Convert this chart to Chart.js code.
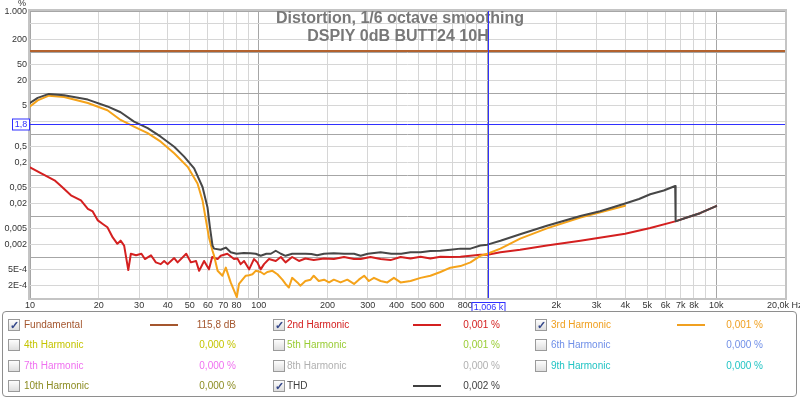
<!DOCTYPE html>
<html>
<head>
<meta charset="utf-8">
<script src="https://cdn.jsdelivr.net/npm/chart.js@4.4.0/dist/chart.umd.min.js"></script>
<style>
  body { margin: 0; background: #fff; font-family: 'Liberation Sans', Arial, sans-serif; }
  #wrap { position: relative; width: 800px; height: 399px; overflow: hidden; }
  #distChart { position: absolute; left: 0; top: 0; }
  #legendBox { position: absolute; left: 2px; top: 311px; width: 793px; height: 84px;
               border: 1px solid #8e8e8e; border-radius: 4px; }
  .cb  { position: absolute; width: 10px; height: 10px; border: 1px solid #9a9a9a;
         background: linear-gradient(#fdfdfd, #dedede); font-size: 11px; line-height: 10px;
         text-align: center; color: #34478a; font-weight: bold; }
  .lbl { position: absolute; font-size: 10px; line-height: 12px; white-space: nowrap; }
  .val { position: absolute; font-size: 10px; line-height: 12px; white-space: nowrap; text-align: right; width: 80px; }
  .smp { position: absolute; width: 28px; height: 2px; }
</style>
</head>
<body>
<div id="wrap">
  <canvas id="distChart" width="800" height="312"></canvas>
  <div id="legendBox"></div>
</div>
<script>
// ─── Dados ────────────────────────────────────────────────
const titleLines = ['Distortion, 1/6 octave smoothing', 'DSPIY 0dB BUTT24 10H'];

const fundFreq = [10, 20000];
const fundPct  = [106, 106];

const h2Freq = [10, 11.2, 12.8, 13.7, 15.1, 16.7, 17.9, 18.8, 19.8, 20.8,
  21.8, 23.0, 24.1, 24.9, 25.8, 26.9, 27.6, 29.1, 30.7, 31.8,
  33.8, 35.5, 37.3, 38.6, 39.9, 42.7, 44.2, 48.2, 50.5, 53.2,
  54.9, 57.7, 60.6, 62.6, 66.1, 68.2, 72.9, 78.0, 80.7, 83.4,
  86.3, 90.8, 95.3, 98.6, 102, 105.5, 110.9, 118.7, 125, 131,
  140, 150, 160, 174, 193, 213, 236, 261, 279, 308,
  341, 377, 417, 461, 510, 563, 623, 689, 762, 843,
  931, 1000, 1140, 1390, 1820, 2550, 4000, 5150, 6620, 8500, 10000];
const h2Pct = [0.153, 0.109, 0.074, 0.053, 0.032, 0.024, 0.015, 0.0129, 0.0078, 0.0064,
  0.0053, 0.003, 0.0021, 0.0025, 0.0019, 0.00048, 0.0012, 0.0011, 0.0012, 0.00089,
  0.0011, 0.00074, 0.00067, 0.0008, 0.00067, 0.00094, 0.00074, 0.0012, 0.00074, 0.0008,
  0.00046, 0.0008, 0.0005, 0.001, 0.00089, 0.00107, 0.0012, 0.00089, 0.00092, 0.00067,
  0.0008, 0.0005, 0.00089, 0.00074, 0.0005, 0.00067, 0.00089, 0.0008, 0.001, 0.00074,
  0.001, 0.0008, 0.00092, 0.00084, 0.00092, 0.00089, 0.001, 0.00089, 0.00089, 0.001,
  0.00089, 0.00084, 0.001, 0.00092, 0.00101, 0.00092, 0.00102, 0.001, 0.00101, 0.00107,
  0.00113, 0.00113, 0.0013, 0.0015, 0.0019, 0.0025, 0.0037, 0.0051, 0.0074, 0.0117, 0.0174];

const h3Freq = [10, 10.8, 12.1, 14.1, 17.9, 21.8, 24.9, 28.5, 32.7, 37.3,
  42.7, 48.9, 54.0, 56.8, 58.8, 60.6, 62.8, 63.8, 66.1, 69.4,
  71.8, 75.4, 80.2, 82.0, 84.9, 87.8, 90.8, 93.9, 97.0, 102,
  105.5, 109, 114.8, 120.7, 126.9, 131, 135.5, 140, 147.6, 152,
  160, 168.6, 174, 183, 193, 203, 213, 228, 244, 261,
  274, 289, 303, 319, 341, 365, 390, 417, 461, 510,
  563, 623, 689, 762, 843, 931, 1000, 1140, 1390, 1820, 2550, 4000];
const h3Pct = [4.7, 6.6, 8.6, 8.0, 5.7, 3.8, 2.2, 1.52, 1.05, 0.65,
  0.34, 0.158, 0.062, 0.024, 0.0078, 0.003, 0.00142, 0.00107, 0.00046, 0.00035,
  0.00055, 0.00024, 0.000105, 0.00022, 0.00028, 0.00035, 0.00036, 0.00038, 0.00046, 0.00043,
  0.00038, 0.00043, 0.00046, 0.00038, 0.00028, 0.00022, 0.00018, 0.00031, 0.00024, 0.0002,
  0.00026, 0.00028, 0.00035, 0.00026, 0.00028, 0.00024, 0.00028, 0.00024, 0.00028, 0.00022,
  0.00028, 0.00035, 0.00026, 0.00031, 0.00026, 0.00024, 0.00031, 0.00024, 0.00026, 0.00031,
  0.00035, 0.00043, 0.00055, 0.0006, 0.00074, 0.00107, 0.0012, 0.0016, 0.0028, 0.005, 0.0092, 0.0178];

const thdFreq = [10, 10.8, 12.1, 14.1, 17.9, 21.8, 24.9, 28.5, 32.7, 37.3,
  42.7, 47.2, 52.2, 56.8, 59.7, 61.2, 62.8, 63.8, 68.2, 71.8,
  75.4, 80, 86, 92, 97, 102, 108, 113, 118.7, 125,
  131, 140, 150, 160, 170, 180, 193, 213, 236, 261,
  279, 300, 341, 380, 420, 461, 510, 563, 623, 689,
  762, 843, 931, 1000, 1140, 1390, 1820, 2550, 3110, 4000,
  4600, 5150, 5900, 6620, 6650, 7500, 8500, 10000];
const thdPct = [5.7, 7.6, 9.5, 8.8, 6.9, 4.7, 3.4, 2.0, 1.39, 0.86,
  0.49, 0.28, 0.145, 0.051, 0.0164, 0.0053, 0.0019, 0.0016, 0.0015, 0.0017,
  0.0013, 0.0012, 0.00125, 0.00123, 0.0012, 0.00107, 0.0012, 0.0012, 0.00142, 0.0012,
  0.00107, 0.0012, 0.0012, 0.0012, 0.00118, 0.0011, 0.0012, 0.00123, 0.0012, 0.0012,
  0.00107, 0.0012, 0.0013, 0.0012, 0.0012, 0.0013, 0.0013, 0.0014, 0.00142, 0.0015,
  0.0016, 0.0016, 0.0019, 0.002, 0.0025, 0.0036, 0.0058, 0.0100, 0.0131, 0.0202,
  0.026, 0.034, 0.042, 0.054, 0.0074, 0.0093, 0.0117, 0.0174];

// cursor
const cursorFreq = 1006;
const cursorPct  = 1.8;
const cursorFreqText = '1,006 k';
const cursorPctText  = '1,8';

// ticks
const xGridMult   = [1, 2, 3, 4, 5, 6, 7, 8, 9];
const xTickVals   = [10, 20, 30, 40, 50, 60, 70, 80, 100, 200, 300, 400, 500, 600, 800,
                     2000, 3000, 4000, 5000, 6000, 7000, 8000, 10000];
const xTickText   = ['10', '20', '30', '40', '50', '60', '70', '80', '100', '200', '300', '400', '500', '600', '800',
                     '2k', '3k', '4k', '5k', '6k', '7k', '8k', '10k'];
const xEndText    = '20,0k Hz';
const yGridMult   = [1, 2, 5];
const yTickVals   = [200, 50, 20, 5, 0.5, 0.2, 0.05, 0.02, 0.005, 0.002, 0.0005, 0.0002];
const yTickText   = ['200', '50', '20', '5', '0,5', '0,2', '0,05', '0,02', '0,005', '0,002', '5E-4', '2E-4'];
const yTopVal     = 1000;
const yTopText    = '1.000';
const yUnit       = '%';

// legenda
const legendNames   = ['Fundamental', '2nd Harmonic', '3rd Harmonic', '4th Harmonic', '5th Harmonic', '6th Harmonic',
                       '7th Harmonic', '8th Harmonic', '9th Harmonic', '10th Harmonic', 'THD'];
const legendValues  = ['115,8 dB', '0,001 %', '0,001 %', '0,000 %', '0,001 %', '0,000 %',
                       '0,000 %', '0,000 %', '0,000 %', '0,000 %', '0,002 %'];
const legendColors  = ['#a4562e', '#d42020', '#f0a020', '#c4c400', '#99cc33', '#6f8fe8',
                       '#f070f0', '#b0b0b0', '#22c4c4', '#8c8c22', '#404040'];
const legendChecked = [true, true, true, false, false, false, false, false, false, false, true];

const COLORS = { fund: '#b3622e', h2: '#d42020', h3: '#f5a31a', thd: '#474747', cursor: '#3030ff',
                 gridMajor: '#a6a6a6', gridMinor: '#d6d6d6', tick: '#333333', title: '#787878' };

// ─── Helpers ─────────────────────────────────────────────
const pts = (fs, vs) => fs.map((f, i) => ({ x: f, y: vs[i] }));
const sameVal = (a, b) => Math.abs(Math.log10(a) - Math.log10(b)) < 1e-6;
const isDecade = v => Math.abs(Math.log10(v) - Math.round(Math.log10(v))) < 1e-6;
const TICK_FONT = { family: "'Liberation Sans', Arial, sans-serif", size: 9 };

// ─── Overlay: título, cursores, moldura ──────────────────
const overlay = {
  id: 'overlay',
  beforeDatasetsDraw(chart) {
    const { ctx } = chart;
    ctx.save();
    ctx.font = "bold 16px 'Liberation Sans', Arial, sans-serif";
    ctx.fillStyle = COLORS.title;
    ctx.textAlign = 'center';
    ctx.textBaseline = 'middle';
    ctx.fillText(titleLines[0], 400, 19);
    ctx.fillText(titleLines[1], 398, 37);
    ctx.restore();
  },
  afterDraw(chart) {
    const { ctx, chartArea: a, scales: { x, y } } = chart;
    ctx.save();
    // moldura
    ctx.strokeStyle = '#c4c4c4';
    ctx.lineWidth = 2;
    ctx.strokeRect(a.left - 1, a.top - 1, a.right - a.left + 2, a.bottom - a.top + 2);

    // cursores
    const cx = Math.round(x.getPixelForValue(cursorFreq)) + 0.5;
    const cy = Math.round(y.getPixelForValue(cursorPct)) + 0.5;
    ctx.strokeStyle = COLORS.cursor;
    ctx.lineWidth = 1;
    ctx.beginPath();
    ctx.moveTo(cx, a.top); ctx.lineTo(cx, a.bottom);
    ctx.moveTo(a.left, cy); ctx.lineTo(a.right, cy);
    ctx.stroke();

    ctx.font = "9px 'Liberation Sans', Arial, sans-serif";
    ctx.textBaseline = 'middle';
    ctx.textAlign = 'center';
    // caixa y
    ctx.fillStyle = '#fff';
    ctx.fillRect(12.5, cy - 5.5, 17, 11);
    ctx.strokeRect(12.5, cy - 5.5, 17, 11);
    ctx.fillStyle = COLORS.cursor;
    ctx.fillText(cursorPctText, 21, cy + 0.5);
    // caixa x
    ctx.fillStyle = '#fff';
    ctx.fillRect(cx - 16.5, a.bottom + 4.5, 33, 10);
    ctx.strokeRect(cx - 16.5, a.bottom + 4.5, 33, 10);
    ctx.fillStyle = COLORS.cursor;
    ctx.fillText(cursorFreqText, cx, a.bottom + 10);

    // rótulos extras
    ctx.fillStyle = COLORS.tick;
    ctx.textAlign = 'left';
    ctx.fillText(xEndText, 767, a.bottom + 8);
    ctx.textAlign = 'center';
    ctx.fillText(yUnit, 22, 4);
    ctx.textAlign = 'right';
    ctx.fillText(yTopText, a.left - 3, y.getPixelForValue(yTopVal) + 1);
    ctx.restore();
  }
};

// ─── Gráfico ─────────────────────────────────────────────
const lineStyle = { borderWidth: 2, pointRadius: 0, tension: 0, fill: false,
                    borderJoinStyle: 'round', borderCapStyle: 'round' };

new Chart(document.getElementById('distChart'), {
  type: 'line',
  data: {
    datasets: [
      { label: 'THD',          data: pts(thdFreq, thdPct),   borderColor: COLORS.thd,  ...lineStyle },
      { label: '3rd Harmonic', data: pts(h3Freq, h3Pct),     borderColor: COLORS.h3,   ...lineStyle },
      { label: '2nd Harmonic', data: pts(h2Freq, h2Pct),     borderColor: COLORS.h2,   ...lineStyle },
      { label: 'Fundamental',  data: pts(fundFreq, fundPct), borderColor: COLORS.fund, ...lineStyle },
    ],
  },
  options: {
    responsive: false,
    animation: false,
    layout: { padding: { top: 11, right: 15, left: 0, bottom: 0 } },
    plugins: { legend: { display: false }, tooltip: { enabled: false }, title: { display: false } },
    scales: {
      x: {
        type: 'logarithmic', min: 10, max: 20000,
        afterBuildTicks(scale) {
          const t = [];
          for (let e = 1; e <= 4; e++) {
            xGridMult.forEach(m => { const v = m * Math.pow(10, e); if (v <= 20000) t.push({ value: v }); });
          }
          t.push({ value: 20000 });
          scale.ticks = t;
        },
        afterFit(scale) { scale.height = 14; },
        grid: { color: c => isDecade(c.tick.value) ? COLORS.gridMajor : COLORS.gridMinor, drawTicks: false },
        border: { display: false },
        ticks: {
          autoSkip: false, maxRotation: 0, padding: 2, font: TICK_FONT, color: COLORS.tick,
          callback: v => { const i = xTickVals.findIndex(t => sameVal(t, v)); return i < 0 ? '' : xTickText[i]; },
        },
      },
      y: {
        type: 'logarithmic', min: 0.0001, max: 1000,
        afterBuildTicks(scale) {
          const t = [];
          for (let e = -4; e <= 3; e++) {
            yGridMult.forEach(m => { const v = Number((m * Math.pow(10, e)).toPrecision(6)); if (v <= 1000) t.push({ value: v }); });
          }
          scale.ticks = t;
        },
        afterFit(scale) { scale.width = 30; },
        grid: { color: c => isDecade(c.tick.value) ? COLORS.gridMajor : COLORS.gridMinor, drawTicks: false },
        border: { display: false },
        ticks: {
          autoSkip: false, padding: 3, font: TICK_FONT, color: COLORS.tick,
          callback: v => { const i = yTickVals.findIndex(t => sameVal(t, v)); return i < 0 ? '' : yTickText[i]; },
        },
      },
    },
  },
  plugins: [overlay],
});

// ─── Legenda (HTML) ──────────────────────────────────────
const rowY   = [325, 345, 366, 386];
const cbX    = [8, 273, 535];
const lblX   = [24, 287, 551];
const smpX   = [150, 413, 677];
const valEnd = [236, 500, 763];
const wrap = document.getElementById('wrap');
legendNames.forEach((name, i) => {
  const r = Math.floor(i / 3), c = i % 3, yc = rowY[r];
  let html = `<div class="cb" style="left:${cbX[c]}px;top:${yc - 6}px;">${legendChecked[i] ? '✓' : ''}</div>`;
  html += `<div class="lbl" style="left:${lblX[c]}px;top:${yc - 6}px;color:${legendColors[i]};">${name}</div>`;
  if (legendChecked[i]) {
    html += `<div class="smp" style="left:${smpX[c]}px;top:${yc - 1}px;background:${legendColors[i]};"></div>`;
  }
  html += `<div class="val" style="left:${valEnd[c] - 80}px;top:${yc - 6}px;color:${legendColors[i]};">${legendValues[i]}</div>`;
  wrap.insertAdjacentHTML('beforeend', html);
});
</script>
</body>
</html>
